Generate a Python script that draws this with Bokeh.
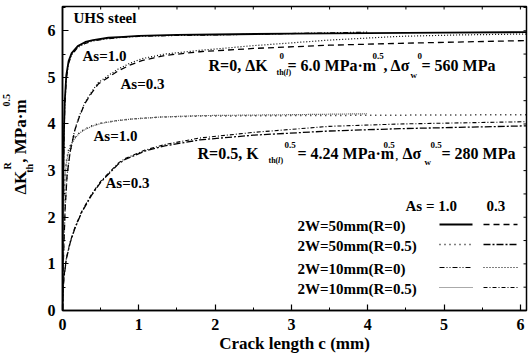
from bokeh.plotting import figure
from bokeh.layouts import row
from bokeh.models import Range1d, FixedTicker
from bokeh.core.properties import value
from bokeh.embed import file_html
from bokeh.resources import INLINE

# Crack length c (mm) and threshold dK_th^R (MPa m^0.5), UHS steel
c_50_r0_a10 = [0, 0.005, 0.01, 0.02, 0.03, 0.05, 0.08, 0.12, 0.2, 0.3, 0.4, 0.6, 0.8, 1.0, 1.5, 2, 3, 4, 5, 6.08]
k_50_r0_a10 = [0, 1.8, 2.8, 3.9, 4.5, 5.05, 5.35, 5.52, 5.67, 5.76, 5.8, 5.85, 5.87, 5.89, 5.91, 5.92, 5.94, 5.95, 5.96, 5.97]

c_50_r0_a03 = [0, 0.005, 0.01, 0.02, 0.035, 0.06, 0.1, 0.16, 0.22, 0.29, 0.38, 0.47, 0.6, 0.73, 0.88, 1.04, 1.2, 1.34, 1.8, 2.5, 3.5, 4.42, 6.08]
k_50_r0_a03 = [0, 0.7, 1.0, 1.5, 2.2, 2.9, 3.4, 3.86, 4.15, 4.43, 4.66, 4.86, 5.0, 5.14, 5.26, 5.36, 5.42, 5.47, 5.55, 5.62, 5.69, 5.73, 5.79]

c_10_r0_a10 = [0, 0.005, 0.01, 0.02, 0.03, 0.05, 0.08, 0.12, 0.2, 0.3, 0.4, 0.6, 0.8, 1.0, 1.5, 2, 3, 4]
k_10_r0_a10 = [0, 1.7, 2.6, 3.7, 4.35, 4.95, 5.3, 5.48, 5.64, 5.73, 5.78, 5.83, 5.86, 5.88, 5.9, 5.91, 5.94, 5.97]

c_10_r0_a03 = [0, 0.005, 0.01, 0.02, 0.035, 0.06, 0.1, 0.16, 0.22, 0.29, 0.38, 0.47, 0.6, 0.73, 0.88, 1.04, 1.34, 1.8, 2.5, 3.5, 4.42, 5.2, 6.08]
k_10_r0_a03 = [0, 0.7, 1.0, 1.5, 2.2, 2.9, 3.4, 3.87, 4.17, 4.45, 4.69, 4.89, 5.04, 5.18, 5.3, 5.4, 5.5, 5.58, 5.68, 5.8, 5.88, 5.91, 5.93]

c_50_r05_a10 = [0, 0.005, 0.01, 0.02, 0.035, 0.05, 0.08, 0.12, 0.16, 0.22, 0.29, 0.4, 0.5, 0.7, 0.93, 1.3, 1.8, 3, 4.5, 6.08]
k_50_r05_a10 = [0, 1.3, 1.8, 2.45, 2.95, 3.2, 3.45, 3.6, 3.71, 3.81, 3.89, 3.97, 4.02, 4.07, 4.11, 4.15, 4.17, 4.18, 4.19, 4.2]

c_50_r05_a03 = [0, 0.005, 0.01, 0.02, 0.05, 0.1, 0.16, 0.25, 0.38, 0.5, 0.73, 0.82, 1.08, 1.34, 1.8, 2.5, 3.5, 4.42, 6.08]
k_50_r05_a03 = [0, 0.35, 0.5, 0.71, 1.1, 1.45, 1.75, 2.1, 2.47, 2.75, 3.14, 3.24, 3.42, 3.53, 3.66, 3.76, 3.85, 3.9, 3.96]

c_10_r05_a10 = [0, 0.005, 0.01, 0.02, 0.035, 0.05, 0.08, 0.12, 0.16, 0.22, 0.29, 0.4, 0.5, 0.7, 0.93, 1.3, 1.8, 3, 4]
k_10_r05_a10 = [0, 1.25, 1.75, 2.4, 2.9, 3.15, 3.42, 3.58, 3.69, 3.8, 3.88, 3.96, 4.01, 4.07, 4.11, 4.15, 4.18, 4.2, 4.22]

c_10_r05_a03 = [0, 0.005, 0.01, 0.02, 0.05, 0.1, 0.16, 0.25, 0.38, 0.5, 0.73, 0.82, 1.08, 1.34, 1.8, 2.5, 3.5, 4.42, 6.08]
k_10_r05_a03 = [0, 0.36, 0.52, 0.73, 1.12, 1.47, 1.77, 2.12, 2.49, 2.77, 3.16, 3.26, 3.44, 3.56, 3.7, 3.82, 3.95, 4.0, 4.05]

x_ticks = [0, 1, 2, 3, 4, 5, 6]
y_ticks = [0, 1, 2, 3, 4, 5, 6]

legend_rows = ["2W=50mm(R=0)", "2W=50mm(R=0.5)", "2W=10mm(R=0)", "2W=10mm(R=0.5)"]

# line styles: (As=1.0 style, As=0.3 style) per specimen row
styles = [
    (dict(line_dash="solid", line_width=1.8, line_color="black"),
     dict(line_dash="6 4", line_width=1.3, line_color="black")),
    (dict(line_dash="1 4", line_width=1.5, line_color="black"),
     dict(line_dash="7 2 2 2", line_width=1.3, line_color="black")),
    (dict(line_dash="5 2 1 2 1 2", line_width=1.2, line_color="black"),
     dict(line_dash="1 2", line_width=1.2, line_color="black")),
    (dict(line_dash="1 1", line_width=1.2, line_color="#555555"),
     dict(line_dash="4 2 1 2", line_width=1.1, line_color="black")),
]
series = [
    ((c_50_r0_a10, k_50_r0_a10), (c_50_r0_a03, k_50_r0_a03)),
    ((c_50_r05_a10, k_50_r05_a10), (c_50_r05_a03, k_50_r05_a03)),
    ((c_10_r0_a10, k_10_r0_a10), (c_10_r0_a03, k_10_r0_a03)),
    ((c_10_r05_a10, k_10_r05_a10), (c_10_r05_a03, k_10_r05_a03)),
]

FONT = "Liberation Serif"

# page layout (pixels): a narrow strip for the y title, then the plot
W, H = 529, 362
TW = 36                       # width of the y-title strip
FL, FR, FT, FB = 62, 526, 6, 310   # frame edges on the page
X0, X1 = 0.0, 6.08
Y0, Y1 = 0.0, 6.52


def px(x):
    return X0 + (x - FL) / (FR - FL) * (X1 - X0)


def py(y):
    return Y0 + (FB - y) / (FB - FT) * (Y1 - Y0)


p = figure(width=W - TW, height=H, output_backend="svg", toolbar_location=None,
           x_range=Range1d(X0, X1), y_range=Range1d(Y0, Y1),
           min_border_left=FL - TW, min_border_right=W - FR, min_border_top=FT,
           min_border_bottom=H - FB)
p.grid.visible = False
p.outline_line_color = "black"
p.outline_line_width = 1.5
p.background_fill_color = "white"
p.border_fill_color = "white"

for ax, ticks in ((p.xaxis[0], x_ticks), (p.yaxis[0], y_ticks)):
    ax.ticker = FixedTicker(ticks=ticks, minor_ticks=[t + 0.5 for t in ticks])
    ax.axis_line_color = "black"
    ax.axis_line_width = 1.5
    ax.major_tick_in = 6
    ax.major_tick_out = 0
    ax.minor_tick_in = 3
    ax.minor_tick_out = 0
    ax.major_tick_line_color = "black"
    ax.minor_tick_line_color = "black"
    ax.major_tick_line_width = 1.2
    ax.minor_tick_line_width = 1
    ax.major_label_text_font = FONT
    ax.major_label_text_font_style = "bold"
    ax.major_label_text_font_size = "16px"
    ax.major_label_text_color = "black"

p.xaxis.major_label_standoff = 8
p.yaxis.major_label_standoff = 7
p.xaxis.axis_label = "Crack length c (mm)"
p.xaxis.axis_label_text_font = FONT
p.xaxis.axis_label_text_font_style = "bold"
p.xaxis.axis_label_text_font_size = "17px"
p.xaxis.axis_label_text_color = "black"
p.xaxis.axis_label_standoff = 1

# small inward ticks mirrored on the top and right frame edges
top_marks = sorted(set(x_ticks + [t + 0.5 for t in x_ticks if t + 0.5 < X1]))
right_marks = sorted(set(y_ticks + [t + 0.5 for t in y_ticks if t + 0.5 < Y1]))
tick_h = 3 / (FB - FT) * (Y1 - Y0)
tick_w = 3 / (FR - FL) * (X1 - X0)
p.segment(x0=top_marks, y0=[Y1] * len(top_marks), x1=top_marks,
          y1=[Y1 - tick_h] * len(top_marks), line_color="black", line_width=1)
p.segment(x0=[X1] * len(right_marks), y0=right_marks, x1=[X1 - tick_w] * len(right_marks),
          y1=right_marks, line_color="black", line_width=1)

for (s10, s03), (st10, st03) in zip(series, styles):
    p.line(s10[0], s10[1], **st10)
    p.line(s03[0], s03[1], **st03)


def txt(text, x, yc, size, italic=False):
    # x: left edge, yc: vertical centre of the text (page pixels)
    p.text(x=[px(x)], y=[py(yc)], text=[text], text_font=value(FONT),
           text_font_style="bold italic" if italic else "bold",
           text_font_size=f"{size}px", text_color="black",
           text_align="left", text_baseline="middle")


txt("UHS steel", 73, 17, 15)
txt("As=1.0", 82, 55, 15)
txt("As=0.3", 120, 83, 15)
txt("As=1.0", 93, 135, 15)
txt("As=0.3", 105, 182, 15)

# R = 0 annotation
txt("R=0, \u0394K", 208, 65, 16)
txt("th(", 276, 72, 8)
txt("l", 285.5, 72, 8, italic=True)
txt(")", 288, 72, 8)
txt("0", 279, 55, 9)
txt(" = 6.0 MPa\u00b7m", 287, 65, 16)
txt("0.5", 372, 55, 9)
txt(", \u0394\u03c3", 383, 65, 16)
txt("w", 410, 74, 9)
txt("0", 417, 55, 9)
txt(" = 560 MPa", 421, 65, 16)

# R = 0.5 annotation
txt("R=0.5, K", 197, 153, 16)
txt("th(", 268, 160, 8)
txt("l", 277.5, 160, 8, italic=True)
txt(")", 280, 160, 8)
txt("0.5", 284, 144, 9)
txt(" = 4.24 MPa\u00b7m", 297, 153, 16)
txt("0.5", 383, 144, 9)
txt(",", 395, 156, 10)
txt("\u0394\u03c3", 402, 153, 16)
txt("w", 424, 161, 9)
txt("0.5", 430, 144, 9)
txt(" = 280 MPa", 441, 153, 16)

# legend: specimen labels with As=1.0 and As=0.3 line keys
txt("As = 1.0", 405, 205, 15)
txt("0.3", 486, 205, 15)
row_y = [224, 244, 267, 287]
for name, ry, (st10, st03) in zip(legend_rows, row_y, styles):
    txt(name, 297, ry + 1, 15)
    p.line([px(439), px(472)], [py(ry), py(ry)], **st10)
    p.line([px(483), px(517)], [py(ry), py(ry)], **st03)

# rotated y-axis title, drawn in its own strip (page pixel coordinates)
t = figure(width=TW, height=H, output_backend="svg", toolbar_location=None,
           x_range=Range1d(0, TW), y_range=Range1d(H, 0), min_border=0)
t.axis.visible = False
t.grid.visible = False
t.outline_line_color = None
t.background_fill_color = "white"
t.border_fill_color = "white"

ROT = 3.141592653589793 / 2


def ytxt(text, xc, y, size):
    # xc: horizontal centre of the rotated text, y: its lower end
    t.text(x=[xc], y=[y], text=[text], angle=ROT, text_font=value(FONT),
           text_font_style="bold", text_font_size=f"{size}px", text_color="black",
           text_align="left", text_baseline="middle")


ytxt("\u0394K", 20, 224, 17)
ytxt("th", 28.5, 198, 10)
ytxt("R", 7, 194, 10)
ytxt(", MPa\u00b7m", 20, 186, 17)
ytxt("0.5", 6, 119, 10)

layout = row(t, p, spacing=0)
open("out.html", "w").write(file_html(layout, INLINE))
